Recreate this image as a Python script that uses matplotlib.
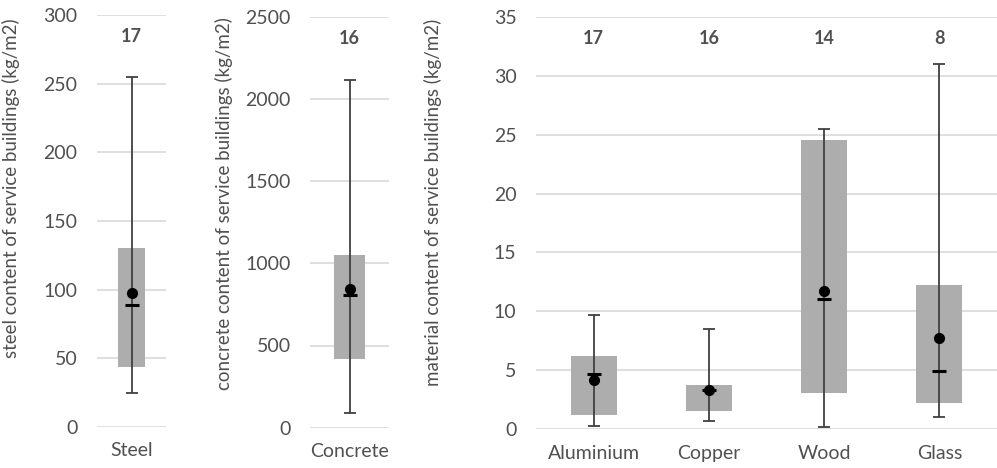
import numpy as np
import matplotlib.pyplot as plt

plt.rcParams['font.family'] = ['Lato', 'DejaVu Sans']

# steel panel
steel_names = ["Steel"]
steel_low = [24.5]
steel_q1 = [43.5]
steel_q3 = [130]
steel_high = [255]
steel_mean = [97.5]
steel_median = [88.5]
steel_n = [17]

# concrete panel
conc_names = ["Concrete"]
conc_low = [88]
conc_q1 = [420]
conc_q3 = [1052]
conc_high = [2117]
conc_mean = [845]
conc_median = [805]
conc_n = [16]

# other materials
mat_names = ["Aluminium", "Copper", "Wood", "Glass"]
mat_low = [0.3, 0.7, 0.2, 1.07]
mat_q1 = [1.2, 1.55, 3.05, 2.25]
mat_q3 = [6.25, 3.77, 24.55, 12.2]
mat_high = [9.7, 8.5, 25.45, 31.0]
mat_mean = [4.22, 3.32, 11.72, 7.75]
mat_median = [4.72, 3.32, 11.05, 4.93]
mat_n = [17, 16, 14, 8]

W, H = 997, 468
fig = plt.figure(figsize=(W / 100, H / 100), dpi=100)

txt = '#505050'
boxc = '#adadad'
gridc = '#d9d9d9'


def px_axes(x0, x1, ytop, ybot):
    return fig.add_axes([x0 / W, 1 - ybot / H, (x1 - x0) / W, (ybot - ytop) / H])


def draw(ax, names, low, q1, q3, high, mean, median, n, ymax, step, ylabel, lab_xy):
    x = np.arange(len(names))
    low, q1, q3, high = map(np.array, (low, q1, q3, high))
    mean = np.array(mean)
    ax.bar(x, q3 - q1, bottom=q1, width=0.4, color=boxc, zorder=2)
    ax.errorbar(x, mean, yerr=[mean - low, high - mean], fmt='none',
                ecolor='#404040', elinewidth=1.3, capsize=4, capthick=1.3, zorder=3)
    ax.plot(x, median, linestyle='none', marker='_', ms=10, mew=2.2, color='black', zorder=4)
    ax.plot(x, mean, linestyle='none', marker='o', ms=7, color='black', zorder=5)
    for xi, ni in zip(x, n):
        ax.text(xi, 0.947, str(ni), transform=ax.get_xaxis_transform(),
                ha='center', va='center', fontsize=13, fontweight='bold', color=txt)
    ax.set_xlim(-0.5, len(names) - 0.5)
    ax.set_ylim(0, ymax)
    ax.set_yticks(np.arange(0, ymax + step / 2, step))
    ax.set_xticks(x)
    ax.set_xticklabels(names)
    ax.yaxis.grid(True, color=gridc, linewidth=1.2, zorder=0)
    ax.set_axisbelow(True)
    for s in ax.spines.values():
        s.set_visible(False)
    ax.tick_params(axis='both', length=0, labelsize=14, labelcolor=txt)
    ax.tick_params(axis='y', pad=14)
    ax.tick_params(axis='x', pad=11)
    ax.set_ylabel(ylabel, fontsize=13.5, color=txt)
    ax.yaxis.set_label_coords(lab_xy[0] / W, 1 - lab_xy[1] / H, transform=fig.transFigure)


ax1 = px_axes(97, 166, 15, 427)
draw(ax1, steel_names, steel_low, steel_q1, steel_q3, steel_high, steel_mean, steel_median,
     steel_n, 300, 50, "steel content of service buildings (kg/m2)", (20, 188))

ax2 = px_axes(310, 389, 16.7, 427.7)
draw(ax2, conc_names, conc_low, conc_q1, conc_q3, conc_high, conc_mean, conc_median,
     conc_n, 2500, 500, "concrete content of service buildings (kg/m2)", (233, 204))

ax3 = px_axes(536, 997, 16.7, 429.3)
draw(ax3, mat_names, mat_low, mat_q1, mat_q3, mat_high, mat_mean, mat_median,
     mat_n, 35, 5, "material content of service buildings (kg/m2)", (442, 202))

fig.savefig('out.png', dpi=100)
